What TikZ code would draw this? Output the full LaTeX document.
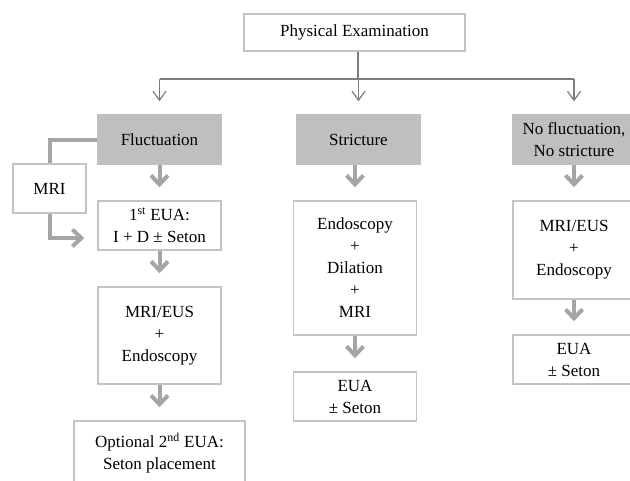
\documentclass[tikz,border=0pt]{standalone}
\usepackage{fontspec}
\setmainfont{Liberation Serif}
\usetikzlibrary{arrows.meta}
\definecolor{edgegray}{RGB}{196,196,196}
\definecolor{fillgray}{RGB}{191,191,191}
\definecolor{flowgray}{RGB}{165,165,165}
\definecolor{linegray}{RGB}{125,125,125}

\begin{document}
\begin{tikzpicture}[x=1pt, y=-1pt,
  box/.style={draw=edgegray, line width=1.5pt, fill=white, align=center, inner sep=0pt,
    font=\fontsize{17}{22}\selectfont},
  cond/.style={box, draw=fillgray, fill=fillgray},
  thinarrow/.style={draw=linegray, line width=1.2pt, -{Straight Barb[length=9pt,width=13pt]}, shorten >=13pt},
  thickline/.style={draw=flowgray, line width=4pt},
  thickarrow/.style={thickline, -{Straight Barb[length=9pt,width=17pt]}, shorten >=13pt}]
\useasboundingbox (0,0) rectangle (630,480);

\node[box, minimum width=221, minimum height=37] (phys) at (354.5,32.5) {Physical Examination};

\node[cond, minimum width=123, minimum height=49] (fluct) at (159.5,139.5) {Fluctuation};
\node[cond, minimum width=123, minimum height=49] (strict) at (358.5,139.5) {Stricture};
\node[cond, minimum width=122, minimum height=49] (nofl) at (574,139.5) {No fluctuation,\\ No stricture};

\node[box, minimum width=73, minimum height=49] (mri) at (49.5,188.5) {MRI};
\node[box, minimum width=123, minimum height=49] (eua1) at (159.5,225.5) {1\textsuperscript{st} EUA:\\ I + D ± Seton};
\node[box, minimum width=123, minimum height=97] (imaging1) at (159.5,335.5) {MRI/EUS\\ +\\ Endoscopy};
\node[box, minimum width=171, minimum height=64] (eua2nd) at (159.5,453) {Optional 2\textsuperscript{nd} EUA:\\ Seton placement};

\node[box, minimum width=123, minimum height=134] (endo) at (355,268) {Endoscopy\\ +\\ Dilation\\ +\\ MRI};
\node[box, minimum width=123, minimum height=49] (eua3) at (355,396.5) {EUA\\ ± Seton};

\node[box, minimum width=122, minimum height=98] (imaging2) at (574,250) {MRI/EUS\\ +\\ Endoscopy};
\node[box, minimum width=122, minimum height=49] (eua4) at (574,359.5) {EUA\\ ± Seton};

\coordinate (hub) at (358,79);
\draw[draw=linegray, line width=1.2pt] (phys.south -| hub) -- (hub);
\draw[draw=linegray, line width=1.2pt] (hub -| fluct) -- (hub -| nofl);
\foreach \n in {fluct,strict,nofl}
  \draw[thinarrow] (hub -| \n) -- (\n.north);

\draw[thickline] (fluct.west) -| (mri.north);
\draw[thickarrow] (mri.south) |- ([yshift=-12.5pt]eua1.west);

\draw[thickarrow] (fluct) -- (eua1);
\draw[thickarrow] (eua1) -- (imaging1);
\draw[thickarrow] (imaging1) -- (eua2nd);
\draw[thickarrow] (strict.south -| endo) -- (endo.north);
\draw[thickarrow] (endo) -- (eua3);
\draw[thickarrow] (nofl) -- (imaging2);
\draw[thickarrow] (imaging2) -- (eua4);

\end{tikzpicture}
\end{document}
